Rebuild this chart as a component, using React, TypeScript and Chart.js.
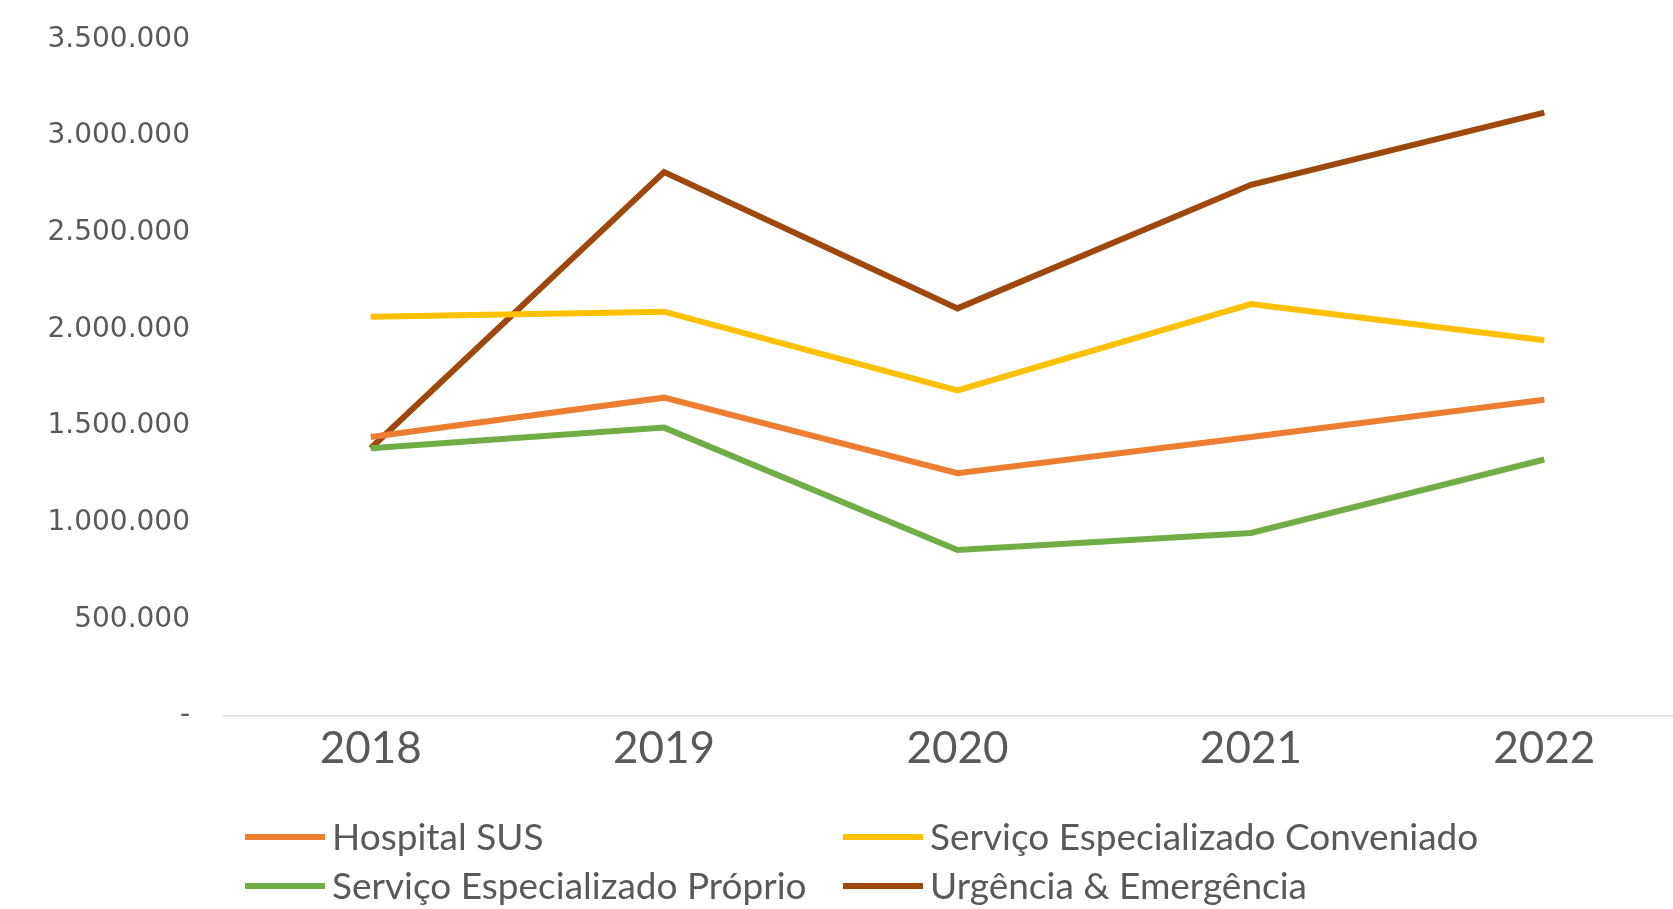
import React, { useEffect, useRef } from "react";
import { Chart, registerables } from "chart.js";

Chart.register(...registerables);

const years = ["2018", "2019", "2020", "2021", "2022"];
const hospitalSUS = [1443000, 1647000, 1256000, 1443000, 1636000];
const especializadoConveniado = [2065000, 2092000, 1685000, 2131000, 1944000];
const especializadoProprio = [1385000, 1492000, 859000, 947000, 1327000];
const urgenciaEmergencia = [1385000, 2814000, 2109000, 2748000, 3122000];
const yTicks = [0, 500000, 1000000, 1500000, 2000000, 2500000, 3000000, 3500000];

const seriesNames = [
  "Hospital SUS",
  "Serviço Especializado Conveniado",
  "Serviço Especializado Próprio",
  "Urgência & Emergência",
];
const seriesColors = ["#ED7D31", "#FFC000", "#70AD47", "#9E480E"];

const TEXT = "#595959";

function fmt(v: number): string {
  if (v === 0) return "-";
  return String(Math.round(v)).replace(/\B(?=(\d{3})+(?!\d))/g, ".");
}

const legendPlugin = {
  id: "gridLegend",
  afterDraw(chart: any) {
    const ctx = chart.ctx;
    const area = chart.chartArea;
    const ds = chart.data.datasets;
    const colX = [area.left + 21, area.left + 619];
    const rowY = [area.bottom + 121, area.bottom + 170];
    ctx.save();
    ctx.font = "37px Lato, 'Open Sans', sans-serif";
    ctx.textBaseline = "middle";
    ctx.textAlign = "left";
    ds.forEach((d: any, i: number) => {
      const col = i % 2;
      const row = Math.floor(i / 2);
      const x = colX[col];
      const y = rowY[row];
      ctx.strokeStyle = d.borderColor;
      ctx.lineWidth = 6;
      ctx.lineCap = "butt";
      ctx.beginPath();
      ctx.moveTo(x, y);
      ctx.lineTo(x + 80, y);
      ctx.stroke();
      ctx.fillStyle = TEXT;
      ctx.fillText(d.label, x + 87, y + 1);
    });
    ctx.restore();
  },
};

export default function App() {
  const ref = useRef<HTMLCanvasElement | null>(null);

  useEffect(() => {
    document.body.style.overflow = "hidden";
    const canvas = ref.current;
    if (!canvas) return;
    const values = [hospitalSUS, especializadoConveniado, especializadoProprio, urgenciaEmergencia];
    const chart = new Chart(canvas, {
      type: "line",
      data: {
        labels: years,
        datasets: seriesNames.map((name, i) => ({
          label: name,
          data: values[i],
          borderColor: seriesColors[i],
          backgroundColor: seriesColors[i],
          borderWidth: 6,
          pointRadius: 0,
          pointHoverRadius: 0,
          tension: 0,
          fill: false,
        })),
      },
      options: {
        animation: false,
        responsive: false,
        maintainAspectRatio: false,
        layout: { padding: { top: 39.5, right: 9, bottom: 0, left: 0 } },
        plugins: {
          legend: { display: false },
          tooltip: { enabled: false },
          title: { display: false },
        },
        scales: {
          x: {
            type: "category",
            offset: true,
            grid: { display: false, drawTicks: false },
            border: { display: true, color: "#D9D9D9", width: 1.5 },
            ticks: {
              color: TEXT,
              padding: 6,
              font: { family: "Lato, 'Open Sans', sans-serif", size: 44 },
            },
            afterFit: (s: any) => {
              s.height = 193;
              s.paddingLeft = 0;
              s.paddingRight = 0;
            },
          },
          y: {
            min: 0,
            max: 3500000,
            afterBuildTicks: (s: any) => {
              s.ticks = yTicks.map((v) => ({ value: v }));
            },
            grid: { display: false, drawTicks: false },
            border: { display: false },
            ticks: {
              color: TEXT,
              padding: 34,
              font: { family: "'DejaVu Sans', Verdana, sans-serif", size: 28 },
              callback: (v: any) => fmt(Number(v)),
            },
            afterFit: (s: any) => {
              s.width = 224;
              s.paddingTop = 0;
              s.paddingBottom = 0;
            },
          },
        },
      },
      plugins: [legendPlugin],
    });
    return () => chart.destroy();
  }, []);

  return (
    <div style={{ position: "fixed", left: 0, top: 0, width: 1700, height: 909, background: "#fff" }}>
      <canvas ref={ref} width={1700} height={909} style={{ display: "block", width: 1700, height: 909 }} />
    </div>
  );
}
